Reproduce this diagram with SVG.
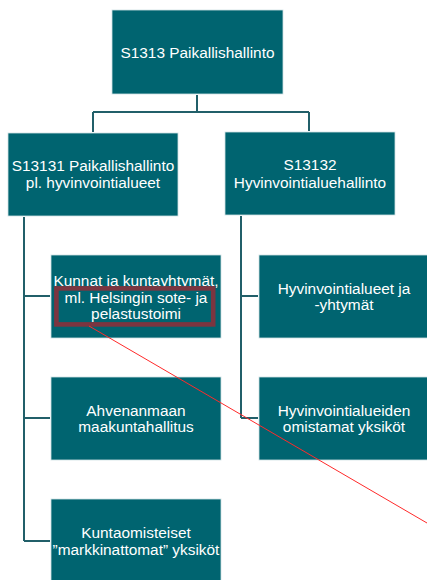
<svg xmlns="http://www.w3.org/2000/svg" width="427" height="580" viewBox="0 0 427 580">
<style>
.box{fill:#006470;stroke:#cfe0e4;stroke-width:0.8}
.t{font-family:"Liberation Sans",Arial,sans-serif;font-size:15.4px;fill:#ffffff;text-anchor:middle}
.conn{fill:none;stroke:#215f69;stroke-width:2}
</style>
<rect width="427" height="580" fill="#ffffff"/>
<g id="connectors">
<path class="conn" d="M197,95 V112 M93,112 H309 M93,112 V132 M309,112 V131"/>
<path class="conn" d="M24,217 V541 M24,296 H50 M24,418 H50 M24,541 H50"/>
<path class="conn" d="M241,216 V418 M241,296 H258 M241,418 H258"/>
</g>
<g id="n-s1313">
<rect class="box" x="112" y="10" width="171" height="84"/>
<text class="t" x="197.5" y="57.5">S1313 Paikallishallinto</text>
</g>
<g id="n-s13131">
<rect class="box" x="8" y="133" width="170" height="83"/>
<text class="t" x="93" y="170.5">S13131 Paikallishallinto</text>
<text class="t" x="93" y="188">pl. hyvinvointialueet</text>
</g>
<g id="n-s13132">
<rect class="box" x="225" y="132" width="170" height="83"/>
<text class="t" x="310" y="170">S13132</text>
<text class="t" x="310" y="187.5">Hyvinvointialuehallinto</text>
</g>
<g id="n-kunnat">
<rect class="box" x="51" y="255" width="170" height="83"/>
<text class="t" x="136" y="286">Kunnat ja kuntayhtymät,</text>
<text class="t" x="136" y="303">ml. Helsingin sote- ja</text>
<text class="t" x="136" y="318.5">pelastustoimi</text>
</g>
<g id="n-ahvenanmaa">
<rect class="box" x="51" y="377" width="170" height="83"/>
<text class="t" x="136" y="416">Ahvenanmaan</text>
<text class="t" x="136" y="431.5">maakuntahallitus</text>
</g>
<g id="n-kuntaomisteiset">
<rect class="box" x="51" y="499" width="170" height="83"/>
<text class="t" x="136" y="538">Kuntaomisteiset</text>
<text class="t" x="136" y="554.5">”markkinattomat” yksiköt</text>
</g>
<g id="n-hyvinvointialueet">
<rect class="box" x="259" y="255" width="170" height="83"/>
<text class="t" x="344" y="294">Hyvinvointialueet ja</text>
<text class="t" x="344" y="310">-yhtymät</text>
</g>
<g id="n-omistamat">
<rect class="box" x="259" y="377" width="170" height="83"/>
<text class="t" x="344" y="416">Hyvinvointialueiden</text>
<text class="t" x="344" y="431.5">omistamat yksiköt</text>
</g>
<g id="highlight">
<rect x="56.4" y="288.4" width="156.8" height="36" fill="none" stroke="#7b3540" stroke-width="4.6"/>
<line x1="89" y1="326" x2="427" y2="523" stroke="#ff2a2a" stroke-width="1"/>
</g>
</svg>
